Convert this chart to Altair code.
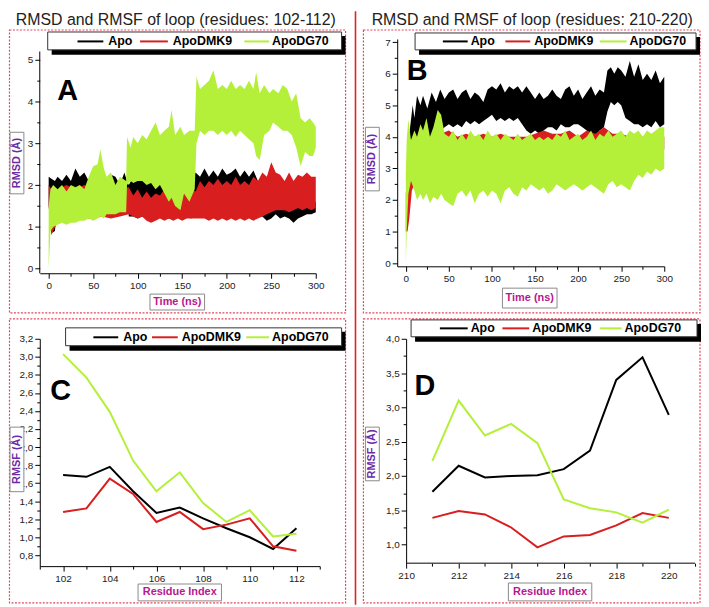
import altair as alt
import pandas as pd

FONT = "Liberation Sans"
SERIES = ["Apo", "ApoDMK9", "ApoDG70"]
COLORS = ["#000000", "#d81e1e", "#b4ef3a"]

# ---------------- Panel A: RMSD envelopes (time ns, low, high) ----------------
a_apo = [(0, 1.5, 2.2), (3, 0.85, 2.15), (7, 0.9, 2.1), (10, 1.5, 2.2), (15, 1.7, 2.1), (20, 1.65, 2.25),
         (25, 1.7, 2.1), (30, 1.7, 2.4), (35, 1.75, 2.2), (40, 1.7, 2.3), (45, 1.7, 2.1), (50, 1.75, 2.2),
         (55, 1.7, 2.05), (60, 1.7, 2.2), (65, 1.75, 2.1), (70, 1.7, 2.25), (75, 1.75, 2.2), (80, 1.7, 2.0),
         (85, 1.75, 2.3), (88, 1.7, 2.1), (90, 1.25, 2.0), (95, 1.25, 2.2), (100, 1.2, 2.3), (105, 1.25, 2.1),
         (110, 1.2, 2.35), (115, 1.2, 2.1), (120, 1.2, 2.3), (125, 1.25, 2.0), (130, 1.2, 2.4), (135, 1.2, 2.2),
         (140, 1.2, 2.3), (145, 1.25, 2.1), (150, 1.2, 2.35), (155, 1.25, 2.2), (160, 1.2, 2.1), (165, 1.3, 2.3),
         (170, 1.35, 2.2), (175, 1.3, 2.4), (180, 1.3, 2.2), (185, 1.35, 2.35), (190, 1.3, 2.2), (195, 1.3, 2.4),
         (200, 1.35, 2.25), (205, 1.3, 2.3), (210, 1.3, 2.4), (215, 1.35, 2.2), (220, 1.3, 2.35), (225, 1.3, 2.2),
         (230, 1.3, 2.35), (235, 1.25, 2.1), (240, 1.25, 1.9), (245, 1.15, 1.8), (250, 1.2, 1.6), (255, 1.3, 1.65),
         (260, 1.2, 1.55), (265, 1.25, 1.7), (270, 1.2, 1.6), (275, 1.1, 1.55), (280, 1.2, 1.65), (285, 1.25, 1.6),
         (290, 1.3, 1.55), (295, 1.3, 1.6), (300, 1.35, 1.6)]
a_dmk9 = [(0, 1.5, 2.0), (3, 0.8, 1.9), (6, 0.95, 1.8), (10, 1.1, 1.9), (20, 1.15, 2.0), (30, 1.2, 1.9),
          (40, 1.2, 2.0), (50, 1.2, 1.9), (60, 1.25, 1.9), (70, 1.2, 1.85), (80, 1.25, 1.9), (90, 1.3, 1.95),
          (95, 1.25, 1.75), (100, 1.2, 1.9), (105, 1.25, 1.7), (110, 1.15, 1.85), (115, 1.1, 1.7), (120, 1.15, 1.8),
          (125, 1.2, 1.75), (130, 1.15, 1.9), (135, 1.2, 1.7), (140, 1.15, 1.85), (145, 1.2, 1.75), (150, 1.15, 1.9),
          (155, 1.2, 1.8), (160, 1.2, 1.9), (165, 1.2, 1.85), (170, 1.2, 2.1), (175, 1.2, 1.95), (180, 1.15, 2.1),
          (185, 1.2, 2.0), (190, 1.15, 2.15), (195, 1.2, 2.0), (200, 1.15, 2.1), (205, 1.2, 2.0), (210, 1.15, 2.2),
          (215, 1.2, 2.0), (220, 1.15, 2.1), (225, 1.2, 2.0), (230, 1.15, 2.2), (235, 1.2, 2.1), (240, 1.25, 2.3),
          (245, 1.3, 2.2), (250, 1.35, 2.55), (255, 1.4, 2.3), (260, 1.4, 2.25), (265, 1.4, 2.1), (270, 1.35, 2.3),
          (275, 1.4, 2.1), (280, 1.45, 2.25), (285, 1.4, 2.2), (290, 1.45, 2.3), (295, 1.4, 2.2), (300, 1.45, 2.2)]
a_dg70 = [(0, 0.0, 1.5), (2, 0.9, 1.9), (5, 1.0, 2.0), (10, 1.05, 1.9), (15, 1.1, 2.0), (20, 1.05, 1.85),
          (25, 1.1, 2.0), (30, 1.1, 1.95), (35, 1.15, 2.0), (40, 1.15, 1.9), (45, 1.2, 2.2), (50, 1.15, 2.45),
          (55, 1.2, 2.5), (58, 1.25, 2.85), (62, 1.2, 2.4), (65, 1.3, 2.2), (70, 1.3, 2.3), (75, 1.3, 2.0),
          (80, 1.35, 2.2), (87, 1.35, 2.1), (88, 2.0, 3.15), (92, 2.1, 2.9), (95, 2.05, 3.15), (100, 2.1, 3.0),
          (105, 2.1, 3.2), (110, 2.0, 3.1), (115, 2.05, 3.3), (120, 1.9, 3.5), (125, 2.0, 3.2), (130, 1.8, 3.3),
          (135, 1.6, 3.4), (138, 1.7, 3.8), (142, 1.5, 3.2), (148, 1.4, 3.4), (152, 1.8, 3.2), (158, 1.6, 3.3),
          (164, 1.9, 3.3), (166, 3.0, 4.6), (170, 3.3, 4.3), (175, 3.2, 4.4), (180, 3.3, 4.5), (185, 3.3, 4.75),
          (190, 3.2, 4.3), (195, 3.3, 4.4), (200, 3.2, 4.3), (205, 3.3, 4.5), (210, 3.15, 4.3), (215, 3.3, 4.4),
          (220, 3.2, 4.3), (225, 3.1, 4.5), (230, 3.0, 4.3), (233, 2.7, 4.7), (237, 2.6, 4.2), (242, 3.2, 4.4),
          (248, 3.3, 4.2), (252, 3.5, 4.3), (258, 3.4, 4.2), (263, 3.3, 4.4), (268, 3.3, 4.3), (273, 3.2, 4.0),
          (278, 2.9, 4.2), (283, 2.45, 3.6), (288, 2.8, 3.5), (293, 2.7, 3.6), (297, 2.7, 3.5), (300, 2.9, 3.4)]

# ---------------- Panel B: RMSD envelopes ----------------
b_apo = [(3, 3.2, 3.8), (5, 3.3, 4.3), (8, 3.3, 5.0), (10, 3.5, 4.6), (13, 3.6, 5.3), (17, 3.5, 5.0), (20, 3.7, 5.3),
         (25, 3.8, 4.9), (30, 3.9, 5.4), (35, 4.1, 5.1), (40, 4.2, 5.5), (45, 4.3, 5.2), (50, 4.4, 5.4), (55, 4.3, 5.5),
         (60, 4.4, 5.2), (65, 4.3, 5.4), (70, 4.5, 5.5), (75, 4.4, 5.2), (80, 4.5, 5.4), (85, 4.4, 5.3), (90, 4.5, 5.1),
         (95, 4.6, 5.5), (100, 4.7, 5.6), (105, 4.5, 5.5), (110, 4.6, 5.7), (115, 4.5, 5.4), (120, 4.6, 5.6),
         (125, 4.5, 5.5), (130, 4.6, 5.6), (135, 4.4, 5.4), (140, 4.2, 5.6), (145, 4.1, 5.4), (150, 4.2, 5.2),
         (155, 4.1, 5.4), (160, 4.2, 5.2), (165, 4.3, 5.3), (170, 4.3, 5.5), (175, 4.2, 5.3), (180, 4.4, 5.2),
         (185, 4.3, 5.5), (190, 4.3, 5.6), (195, 4.4, 5.3), (200, 4.4, 5.5), (205, 4.3, 5.2), (210, 4.2, 5.4),
         (215, 4.1, 5.6), (220, 4.0, 5.3), (225, 4.2, 5.5), (230, 4.3, 5.4), (234, 4.8, 6.1), (238, 5.1, 6.2),
         (242, 5.0, 6.0), (246, 5.1, 6.2), (250, 5.0, 6.1), (255, 4.6, 5.9), (260, 4.5, 6.4), (265, 4.4, 5.9),
         (270, 4.4, 6.3), (275, 4.3, 5.8), (280, 4.4, 6.0), (285, 4.3, 5.8), (290, 4.5, 6.1), (295, 4.3, 5.7),
         (300, 4.4, 5.9)]
b_dmk9 = [(0, 1.0, 2.2), (2, 1.0, 2.8), (4, 1.4, 3.3), (7, 2.3, 3.6), (10, 2.5, 3.9), (15, 2.8, 3.8), (20, 2.9, 4.0),
          (25, 3.0, 3.9), (30, 3.1, 4.0), (40, 3.1, 4.1), (50, 3.2, 4.2), (60, 3.1, 4.0), (70, 3.2, 4.1),
          (80, 3.2, 4.0), (90, 3.2, 4.1), (100, 3.3, 4.0), (110, 3.0, 4.1), (120, 3.0, 4.0), (130, 3.2, 4.0),
          (140, 3.1, 4.0), (150, 3.1, 4.1), (160, 3.0, 4.2), (170, 3.1, 4.1), (180, 3.4, 4.1), (190, 3.5, 4.2),
          (200, 3.4, 4.0), (210, 3.6, 4.2), (220, 3.5, 4.1), (230, 3.4, 4.3), (240, 3.5, 4.1), (250, 3.6, 4.1),
          (260, 3.6, 4.0), (270, 3.7, 4.0), (280, 3.6, 4.0), (290, 3.7, 4.0), (300, 3.6, 4.0)]
b_dg70 = [(0, 0.0, 2.8), (1, 1.0, 3.9), (3, 2.2, 4.55), (6, 2.6, 3.9), (10, 2.3, 4.2), (13, 2.0, 4.0), (17, 2.2, 4.4),
          (20, 2.0, 4.2), (24, 2.2, 4.6), (28, 1.9, 4.0), (32, 2.1, 4.3), (37, 2.0, 4.85), (41, 2.2, 4.7),
          (45, 2.0, 4.1), (50, 1.9, 4.0), (55, 1.8, 4.2), (60, 2.2, 3.9), (65, 2.3, 4.1), (70, 2.1, 3.9),
          (75, 2.3, 4.2), (80, 1.9, 4.0), (85, 2.2, 4.1), (90, 2.3, 3.9), (95, 2.1, 4.2), (100, 2.3, 4.0),
          (105, 2.2, 4.1), (110, 1.9, 3.9), (115, 2.3, 4.1), (120, 2.4, 4.0), (125, 2.2, 3.9), (130, 2.1, 4.1),
          (135, 2.4, 3.9), (140, 2.3, 4.0), (145, 2.5, 4.1), (150, 2.4, 3.9), (155, 2.3, 4.0), (160, 2.4, 3.9),
          (165, 2.2, 4.0), (170, 2.3, 3.9), (175, 2.5, 4.1), (180, 2.4, 4.0), (185, 2.3, 4.2), (190, 2.4, 3.9),
          (195, 2.5, 4.0), (200, 2.4, 4.1), (205, 2.3, 3.9), (210, 2.4, 4.0), (215, 2.5, 4.2), (220, 2.4, 3.9),
          (225, 2.3, 4.1), (230, 2.2, 4.0), (235, 2.5, 4.2), (240, 2.6, 4.0), (245, 2.4, 4.1), (250, 2.5, 4.2),
          (255, 2.4, 4.0), (260, 2.3, 4.2), (265, 2.6, 4.1), (270, 2.8, 4.2), (275, 2.7, 4.0), (280, 2.9, 4.2),
          (285, 2.8, 4.1), (290, 3.0, 4.2), (295, 2.9, 4.3), (300, 3.0, 4.3)]

# ---------------- Panel C: RMSF residues 102-112 ----------------
res_c = [102, 103, 104, 105, 106, 107, 108, 109, 110, 111, 112]
c_apo = [1.69, 1.67, 1.78, 1.51, 1.27, 1.33, 1.21, 1.10, 1.00, 0.87, 1.10]
c_dmk9 = [1.28, 1.32, 1.65, 1.48, 1.17, 1.28, 1.09, 1.14, 1.21, 0.90, 0.85]
c_dg70 = [3.03, 2.77, 2.39, 1.85, 1.51, 1.72, 1.38, 1.17, 1.30, 1.01, 1.04]

# ---------------- Panel D: RMSF residues 211-220 ----------------
res_d = [211, 212, 213, 214, 215, 216, 217, 218, 219, 220]
d_apo = [1.77, 2.15, 1.98, 2.00, 2.01, 2.10, 2.37, 3.40, 3.73, 2.89]
d_dmk9 = [1.39, 1.49, 1.44, 1.25, 0.96, 1.12, 1.14, 1.28, 1.46, 1.39]
d_dg70 = [2.22, 3.10, 2.59, 2.76, 2.48, 1.66, 1.53, 1.47, 1.32, 1.51]

TITLE_LEFT = "RMSD and RMSF of loop (residues: 102-112)"
TITLE_RIGHT = "RMSD and RMSF of loop (residues: 210-220)"

dummy = pd.DataFrame({"d": [0]})


def sc(dom):
    return alt.Scale(domain=dom, nice=False, zero=False)


def comma(dec):
    return f"replace(format(datum.value, '.{dec}f'), '.', ',')"


def axes_layers(xdom, ydom, xmaj, xmin, ymaj, ymin, yexpr=None, ydomain=True, xdomain=True, yoffset=0):
    base = alt.Chart(pd.DataFrame({"x": [xdom[1]], "y": [ydom[1]]}))
    common = dict(grid=False, title=None, domainColor="#000", tickColor="#000", labelColor="#222",
                  labelFont=FONT, labelFontSize=10, tickWidth=1, domainWidth=1, labelPadding=2,
                  labelOverlap=False, labelFlush=False)
    ykw = dict(common)
    if yexpr:
        ykw["labelExpr"] = yexpr
    major = base.mark_point(opacity=0).encode(
        x=alt.X("x:Q", scale=sc(xdom), axis=alt.Axis(orient="bottom", values=xmaj, tickSize=5,
                                                     domain=xdomain, **common)),
        y=alt.Y("y:Q", scale=sc(ydom), axis=alt.Axis(orient="left", values=ymaj, tickSize=5, domain=ydomain,
                                                     offset=yoffset, **ykw)))
    minor = base.mark_point(opacity=0).encode(
        x=alt.X("x:Q", scale=sc(xdom), axis=alt.Axis(orient="bottom", values=xmin, tickSize=3, labels=False,
                                                     domain=False, grid=False, title=None, tickColor="#000")),
        y=alt.Y("y:Q", scale=sc(ydom), axis=alt.Axis(orient="left", values=ymin, tickSize=3, labels=False,
                                                     domain=False, grid=False, title=None, tickColor="#000",
                                                     offset=yoffset)))
    return [major, minor]


def band(rows, xdom, ydom, color):
    df = pd.DataFrame(rows, columns=["t", "lo", "hi"])
    return alt.Chart(df).mark_area(color=color, opacity=1).encode(
        x=alt.X("t:Q", scale=sc(xdom), axis=None),
        y=alt.Y("lo:Q", scale=sc(ydom), axis=None),
        y2="hi:Q")


def line(res, vals, xdom, ydom, color):
    df = pd.DataFrame({"r": res, "v": vals})
    return alt.Chart(df).mark_line(color=color, strokeWidth=2).encode(
        x=alt.X("r:Q", scale=sc(xdom), axis=None),
        y=alt.Y("v:Q", scale=sc(ydom), axis=None))


def d_rect(o, x1, y1, x2, y2, **kw):
    return alt.Chart(dummy).mark_rect(**kw).encode(
        x=alt.value(x1 - o[0]), x2=alt.value(x2 - o[0]), y=alt.value(y1 - o[1]), y2=alt.value(y2 - o[1]))


def d_rule(o, x1, y1, x2, y2, **kw):
    return alt.Chart(dummy).mark_rule(**kw).encode(
        x=alt.value(x1 - o[0]), x2=alt.value(x2 - o[0]), y=alt.value(y1 - o[1]), y2=alt.value(y2 - o[1]))


def d_text(o, s, x, y, **kw):
    return alt.Chart(dummy).mark_text(text=s, font=FONT, **kw).encode(x=alt.value(x - o[0]), y=alt.value(y - o[1]))


def frame(o, box):
    return d_rect(o, *box, fillOpacity=0, stroke="#e4475e", strokeWidth=1.2, strokeDash=[2, 1.5])


def decor(o, ytitle, ybox, xtitle, xbox, letter, lxy, lbox, ly, items):
    out = []
    out.append(d_rect(o, *ybox, fill="white", stroke="#8a8a8a", strokeWidth=1))
    out.append(d_text(o, ytitle, (ybox[0] + ybox[2]) / 2, (ybox[1] + ybox[3]) / 2, angle=270, fontSize=11,
                      fontWeight="bold", color="#6b2aa6", align="center", baseline="middle"))
    out.append(d_rect(o, *xbox, fill="white", stroke="#8a8a8a", strokeWidth=1))
    out.append(d_text(o, xtitle, (xbox[0] + xbox[2]) / 2, (xbox[1] + xbox[3]) / 2, fontSize=11,
                      fontWeight="bold", color="#b8178f", align="center", baseline="middle"))
    out.append(d_text(o, letter, lxy[0], lxy[1], fontSize=29, fontWeight="bold", color="#000",
                      align="center", baseline="middle"))
    out.append(d_rect(o, lbox[0] + 4, lbox[1] + 4, lbox[2] + 4, lbox[3] + 5, fill="#000"))
    out.append(d_rect(o, *lbox, fill="white", stroke="#333", strokeWidth=1))
    for (x1, x2, tx), name, col in zip(items, SERIES, COLORS):
        out.append(d_rule(o, x1, ly, x2, ly, color=col, strokeWidth=2))
        out.append(d_text(o, name, tx, ly, fontSize=12.5, fontWeight="bold", color="#000",
                          align="left", baseline="middle"))
    return out


rmsd_x_major = [0, 50, 100, 150, 200, 250, 300]
rmsd_x_minor = [25, 75, 125, 175, 225, 275]

# ---- panel A ----
oA = (39, 36)
xA, yA = [-10, 300], [-0.11, 5.5]
yaxisA = alt.Chart(pd.DataFrame({"a": [-0.11], "b": [5.2]})).mark_rule(color="#000", strokeWidth=1).encode(
    x=alt.value(0), y=alt.Y("a:Q", scale=sc(yA), axis=None), y2="b:Q")
layersA = [d_rect(oA, 8, 8, 9, 9, opacity=0), frame(oA, (8.5, 27, 347, 312))]
layersA += axes_layers(xA, yA, rmsd_x_major, rmsd_x_minor, [0, 1, 2, 3, 4, 5], [0.5, 1.5, 2.5, 3.5, 4.5],
                       ydomain=False)
layersA += [yaxisA]
layersA += [band(a_apo, xA, yA, COLORS[0]), band(a_dmk9, xA, yA, COLORS[1]), band(a_dg70, xA, yA, COLORS[2])]
layersA += decor(oA, "RMSD (Å)", (9, 130, 23, 192), "Time (ns)", (150, 293, 205, 309), "A", (67, 88),
                 (47, 29, 343, 47), 38.5, [(77, 103, 108), (140, 168, 173), (245, 270, 273)])
layersA += [d_text(oA, TITLE_LEFT, 176, 16.5, fontSize=16, color="#222", align="center", baseline="middle"),
            d_rule(oA, 357, 8, 357, 606, color="#e5211d", strokeWidth=1.6)]
A = alt.layer(*layersA).properties(width=278, height=236).resolve_axis(x="independent", y="independent")

# ---- panel B ----
oB = (399, 36)
xB, yB = [-10, 300], [-0.1, 7.1]
layersB = [frame(oB, (365, 27, 704, 312))]
layersB += axes_layers(xB, yB, rmsd_x_major, rmsd_x_minor, [0, 1, 2, 3, 4, 5, 6, 7],
                       [0.5, 1.5, 2.5, 3.5, 4.5, 5.5, 6.5])
layersB += [band(b_apo, xB, yB, COLORS[0]), band(b_dmk9, xB, yB, COLORS[1]), band(b_dg70, xB, yB, COLORS[2])]
layersB += decor(oB, "RMSD (Å)", (367, 125, 381, 189), "Time (ns)", (505, 287, 560, 307), "B", (419, 68),
                 (417, 30, 700, 47), 38.5, [(445, 470, 473), (508, 533, 537), (603, 630, 633)])
layersB += [d_text(oB, TITLE_RIGHT, 535, 16.5, fontSize=16, color="#222", align="center", baseline="middle")]
B = alt.layer(*layersB).properties(width=269, height=229).resolve_axis(x="independent", y="independent")

# ---- panel C ----
oC = (39, 338)
xC, yC = [101, 113], [0.68, 3.2]
layersC = [frame(oC, (8.5, 318, 347, 604))]
layersC += axes_layers(xC, yC, [102, 104, 106, 108, 110, 112], [101, 103, 105, 107, 109, 111, 113],
                       [0.8, 1.0, 1.2, 1.4, 1.6, 1.8, 2.0, 2.2, 2.4, 2.6, 2.8, 3.0, 3.2],
                       [0.9, 1.1, 1.3, 1.5, 1.7, 1.9, 2.1, 2.3, 2.5, 2.7, 2.9, 3.1], yexpr=comma(1))
layersC += [line(res_c, c_apo, xC, yC, COLORS[0]), line(res_c, c_dmk9, xC, yC, COLORS[1]),
            line(res_c, c_dg70, xC, yC, COLORS[2])]
layersC += decor(oC, "RMSF (Å)", (9, 427, 23, 492), "Residue Index", (138, 585, 222, 602), "C", (60, 391),
                 (65, 327, 343, 345), 336.5, [(93, 118, 123), (152, 178, 182), (247, 270, 273)])
C = alt.layer(*layersC).properties(width=282, height=229).resolve_axis(x="independent", y="independent")

# ---- panel D (plot box starts 9px right of the grid column) ----
oD = (399, 338)
D_SHIFT = 9
xD, yD = [210 - D_SHIFT / 26.45, 221], [0.73, 4.0]
xaxisD = alt.Chart(pd.DataFrame({"a": [210], "b": [221], "y": [0.73]})).mark_rule(color="#000", strokeWidth=1).encode(
    x=alt.X("a:Q", scale=sc(xD), axis=None), x2="b:Q", y=alt.Y("y:Q", scale=sc(yD), axis=None))
layersD = [frame(oD, (365, 318, 704, 604))]
layersD += axes_layers(xD, yD, [210, 212, 214, 216, 218, 220], [211, 213, 215, 217, 219, 221],
                       [1.0, 1.5, 2.0, 2.5, 3.0, 3.5, 4.0], [1.25, 1.75, 2.25, 2.75, 3.25, 3.75], yexpr=comma(1),
                       xdomain=False, yoffset=-D_SHIFT)
layersD += [xaxisD]
layersD += [line(res_d, d_apo, xD, yD, COLORS[0]), line(res_d, d_dmk9, xD, yD, COLORS[1]),
            line(res_d, d_dg70, xD, yD, COLORS[2])]
layersD += decor(oD, "RMSF (Å)", (367, 427, 381, 481), "Residue Index", (511, 584, 595, 602), "D", (427, 386),
                 (413, 319, 701, 336), 327.5, [(442, 470, 473), (505, 532, 535), (603, 625, 628)])
D = alt.layer(*layersD).properties(width=300, height=226).resolve_axis(x="independent", y="independent")

chart = alt.concat(A, B, C, D, columns=2, spacing={"row": 66, "column": 78}, bounds="flush").properties(
    padding=0, background="white").configure_view(strokeWidth=0)

chart.save("out.html", embed_options={"renderer": "svg", "actions": False})
